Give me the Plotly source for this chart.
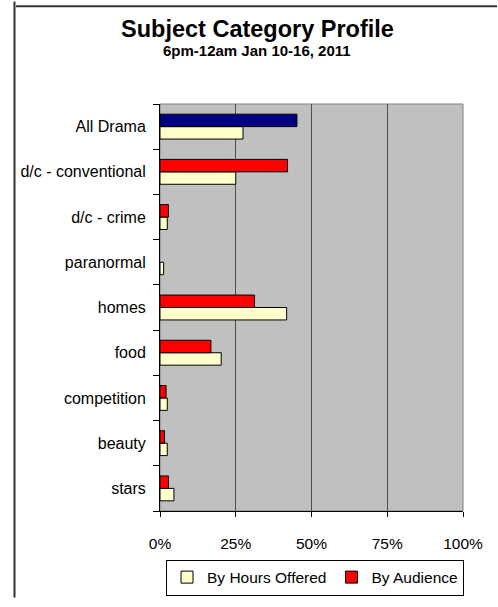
import plotly.graph_objects as go

# Subject categories, listed top to bottom as they appear on the chart
categories = ["All Drama", "d/c - conventional", "d/c - crime", "paranormal",
              "homes", "food", "competition", "beauty", "stars"]

# Share of prime-time (6pm-12am) hours offered, percent
hours_offered = [27.4, 25.0, 2.4, 1.2, 41.8, 20.2, 2.4, 2.4, 4.6]

# Share of audience, percent
audience = [45.2, 42.1, 2.8, 0.0, 31.2, 16.8, 2.0, 1.5, 2.8]

x_tick_vals = [0, 25, 50, 75, 100]
x_tick_text = ["0%", "25%", "50%", "75%", "100%"]

FONT = "Arial, Liberation Sans, sans-serif"

# Plotly draws the first category at the bottom, so feed the lists bottom-up
cats_b = categories[::-1]
hours_b = hours_offered[::-1]
aud_b = audience[::-1]
aud_colors = ["#000080" if c == "All Drama" else "#FF0000" for c in cats_b]
# no outline on empty bars
hours_lw = [1 if v > 0 else 0 for v in hours_b]
aud_lw = [1 if v > 0 else 0 for v in aud_b]

fig = go.Figure()
fig.add_trace(go.Bar(
    y=cats_b, x=hours_b, orientation="h", name="By Hours Offered",
    marker=dict(color="#FFFFCC", line=dict(color="black", width=hours_lw)),
))
fig.add_trace(go.Bar(
    y=cats_b, x=aud_b, orientation="h", name="By Audience",
    marker=dict(color=aud_colors, line=dict(color="black", width=aud_lw)),
))

W, H = 498, 607
ML, MR, MT, MB = 160, 35, 104, 89
PW, PH = W - ML - MR, H - MT - MB


def px_x(px):
    return (px - ML) / PW


def px_y(py):
    return (H - MB - py) / PH


# chart frame (left and top edges) drawn as head-less annotation arrows
FRAME_L, FRAME_T = 14.5, 4.5
frame_style = dict(text="", showarrow=True, arrowhead=0, arrowwidth=2,
                   arrowcolor="#333333", standoff=0, startstandoff=0,
                   xref="paper", yref="paper", axref="pixel", ayref="pixel")
frame_left = dict(x=px_x(FRAME_L), y=px_y(606), ax=0, ay=-(606 - FRAME_T), **frame_style)
frame_top = dict(x=px_x(497), y=px_y(FRAME_T), ax=-(497 - FRAME_L), ay=0, **frame_style)

fig.update_layout(
    width=W, height=H,
    margin=dict(l=ML, r=MR, t=MT, b=MB, pad=0),
    paper_bgcolor="white",
    plot_bgcolor="#C0C0C0",
    barmode="group",
    bargap=0.45,
    bargroupgap=0,
    font=dict(family=FONT, size=15.5, color="black"),
    showlegend=True,
    legend=dict(
        orientation="h", x=px_x(315), xanchor="center", y=px_y(604), yanchor="bottom",
        bordercolor="black", borderwidth=1, bgcolor="white",
        font=dict(family=FONT, size=15.5, color="black"),
        itemwidth=30, traceorder="normal",
    ),
    xaxis=dict(
        range=[0, 100], tickvals=x_tick_vals, ticktext=x_tick_text,
        showgrid=True, gridcolor="#4d4d4d", gridwidth=1,
        showline=True, linecolor="black", linewidth=1,
        ticks="outside", ticklen=5, tickcolor="black",
        ticklabelstandoff=13, zeroline=False, fixedrange=True,
        tickfont=dict(family=FONT, size=15.5, color="black"),
    ),
    yaxis=dict(
        categoryorder="array", categoryarray=cats_b,
        showgrid=False, showline=True, linecolor="black", linewidth=1,
        ticks="outside", ticklen=6, tickcolor="black", tickson="boundaries",
        ticklabelstandoff=10, fixedrange=True,
        tickfont=dict(family=FONT, size=16, color="black"),
    ),
    annotations=[
        dict(text="<b>Subject Category Profile</b>", xref="paper", yref="paper",
             x=px_x(257), y=px_y(27.5), xanchor="center", yanchor="middle",
             showarrow=False, font=dict(family=FONT, size=23.5, color="black")),
        dict(text="<b>6pm-12am Jan 10-16, 2011</b>", xref="paper", yref="paper",
             x=px_x(257), y=px_y(49.5), xanchor="center", yanchor="middle",
             showarrow=False, font=dict(family=FONT, size=15, color="black")),
        frame_left,
        frame_top,
    ],
    shapes=[
        # plot-area outline
        dict(type="rect", xref="paper", yref="paper", x0=0, x1=1, y0=0, y1=1,
             line=dict(color="#808080", width=1), layer="below"),
    ],
)

fig.write_html("out.html")
